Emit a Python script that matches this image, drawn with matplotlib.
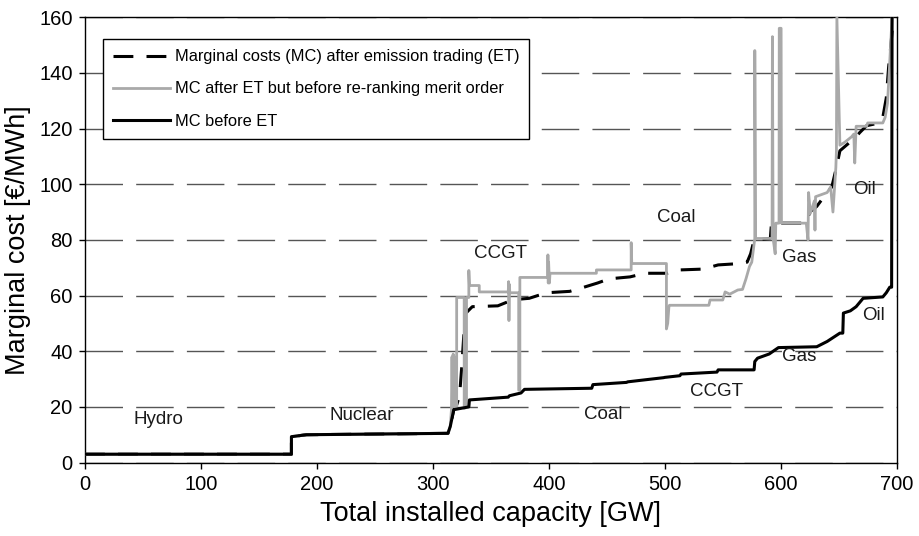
import matplotlib
matplotlib.use("Agg")
import matplotlib.pyplot as plt

plt.rcParams['font.family'] = ['Liberation Sans', 'DejaVu Sans']

# MC before ET (merit order curve)
cap_before = [0, 178, 178, 191, 313, 315, 317, 318, 331, 331.5, 365, 366, 376, 379, 437, 438,
              467, 468, 499, 500, 513, 514, 545, 546, 577, 577.6, 580, 590, 598, 631, 640, 651,
              653.5, 654, 660, 665, 671, 688, 691, 694, 695.6, 696]
mc_before = [3, 3, 9.3, 10, 10.5, 13, 17, 19, 20, 22.5, 23.5, 24, 25, 26.3, 26.7, 28,
             28.8, 29, 30.5, 30.6, 31.2, 31.8, 32.5, 33.3, 33.3, 36.3, 37.5, 39, 41.3, 41.6, 43.5, 46.5,
             46.5, 53.7, 54.5, 56, 59, 59.5, 61, 63, 63, 160]

# MC after ET (re-ranked)
cap_after = [0, 178, 178, 191, 313, 315, 317, 318, 320, 323, 325, 327, 328, 334, 356, 369,
             383, 398, 418, 428, 442, 452, 470, 483, 502, 513, 533, 546, 565, 571, 574, 577,
             591, 592, 622, 625, 631, 640, 644, 648, 651, 665, 668, 674, 685, 688, 691, 693,
             695, 697]
mc_after = [3, 3, 9.3, 10, 10.5, 13, 17, 19, 20, 24, 35, 48, 53.5, 56, 56.3, 58.5,
            59, 61, 61.5, 62.7, 64.5, 66, 66.7, 68, 68, 69.2, 69.5, 71, 71.5, 72, 75, 80,
            80.5, 86, 86, 90, 92, 97, 99, 106, 112, 117, 118.5, 121, 122, 124, 131, 142,
            150, 160]

# MC after ET, old merit order
cap_old = [0, 178, 178, 191, 313, 315, 316, 316.5, 317, 317.5, 318, 318.5, 319, 320.5, 320.5,
           327, 327, 329, 329, 331, 331, 331.5, 340, 340, 365, 365.3, 365.6, 366, 366.3, 374,
           374, 375, 375, 399, 399.2, 399.5, 399.8, 400.5, 401, 441, 441, 471, 471, 471.5,
           501.4, 501.4, 502.5, 503.5, 504, 538, 539, 550, 552, 556, 563, 567, 570, 573, 575,
           577.6, 577.6, 578.2, 592.5, 592.8, 593.4, 595.2, 595.7, 596.2, 598.5, 598.7, 600.3,
           600.6, 622, 623.5, 624, 625.5, 629, 629.5, 630, 640, 643, 645, 647.5, 648, 648.4,
           651, 655, 661, 663, 663.8, 665, 674, 675, 688, 690, 692, 693.5, 696]
mc_old = [3, 3, 9.3, 10, 10.5, 13, 19, 38, 20, 39, 21, 38, 20, 20, 59.3,
          59.3, 19.5, 19.8, 59.3, 59.3, 69, 63.6, 63.6, 61.3, 61.3, 65, 51, 64, 61, 61,
          26, 26, 66.5, 66.5, 74.6, 64.5, 72, 64.5, 68, 68, 69.2, 69.2, 79, 71.5,
          71.5, 48, 50, 55.8, 56.5, 56.5, 58.4, 58.4, 61.3, 60.5, 62, 62.2, 66, 70.4, 72,
          80.5, 148, 80.5, 80.5, 153, 80.5, 75, 86, 86, 86, 156, 156,
          86, 86, 80, 97, 89.5, 94, 83.5, 95.5, 97, 99, 90, 106, 112, 160,
          114, 115, 117, 118, 107.6, 120.8, 120.8, 122, 122, 124, 129, 140, 160]

# technology labels (text, capacity, cost)
tech_labels = [("Hydro", 63, 15.6), ("Nuclear", 239, 17), ("Coal", 446.5, 17.4),
               ("CCGT", 545, 25.7), ("Gas", 616, 38), ("Oil", 680, 53),
               ("CCGT", 358, 75), ("Coal", 509.5, 88), ("Gas", 616, 73.5), ("Oil", 672, 98)]

legend_names = ["Marginal costs (MC) after emission trading (ET)",
                "MC after ET but before re-ranking merit order",
                "MC before ET"]

fig = plt.figure(figsize=(9.2, 5.36), dpi=100)
ax = fig.add_axes([0.0924, 0.137, 0.8823, 0.831])

l1, = ax.plot(cap_after, mc_after, color="black", lw=2.2, linestyle=(0, (6.5, 4.3)), zorder=3)
l2, = ax.plot(cap_old, mc_old, color="#a9a9a9", lw=2.0, zorder=4)
l3, = ax.plot(cap_before, mc_before, color="black", lw=2.2, zorder=5)

for txt, x, y in tech_labels:
    ax.text(x, y, txt, fontsize=13.5, ha="center", va="center", color="#1a1a1a", zorder=6)

ax.set_xlim(0, 700)
ax.set_ylim(0, 160)
ax.set_xticks(range(0, 701, 100))
ax.set_yticks(range(0, 161, 20))
ax.tick_params(direction="out", length=4, width=1, labelsize=14.5, colors="black", pad=5)
ax.yaxis.grid(True, color="#555555", lw=1, linestyle=(0, (27, 9.5)))
ax.set_axisbelow(True)
for s in ax.spines.values():
    s.set_linewidth(1.0)

ax.set_xlabel("Total installed capacity [GW]", fontsize=19.5, labelpad=5)
ax.set_ylabel("Marginal cost [€/MWh]", fontsize=19.5, labelpad=6)

leg = ax.legend([l1, l2, l3], legend_names, loc="upper left", bbox_to_anchor=(0.0218, 0.95),
                borderaxespad=0, fontsize=11.8, frameon=True, fancybox=False, framealpha=1,
                edgecolor="black", handlelength=3.5, handletextpad=0.3, labelspacing=1.05,
                borderpad=0.6)
leg.get_frame().set_linewidth(1.0)
leg.set_zorder(10)

fig.savefig("out.png", dpi=100)
